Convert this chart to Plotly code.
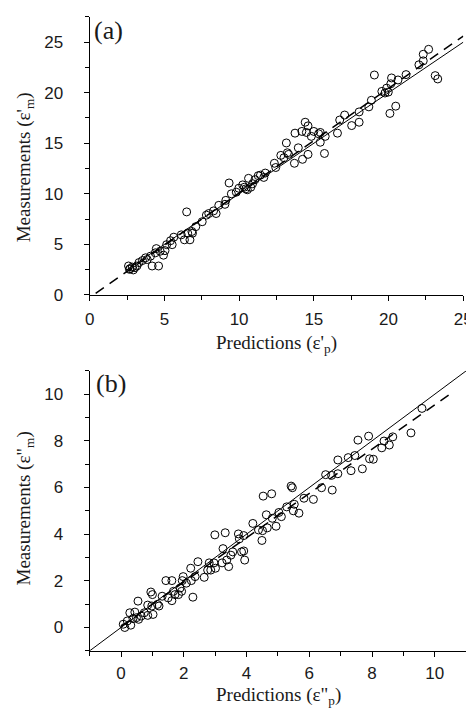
import plotly.graph_objects as go

# ---------------- data ----------------
a_pred = [2.6, 2.66, 2.92, 3.03, 3.16, 3.53, 3.74, 3.85, 4.07, 4.18, 4.39, 4.46, 4.61, 4.72,
          4.94, 5.04, 5.15, 5.41, 5.52, 5.63, 6.13, 6.34, 6.49, 6.56, 6.71, 6.84, 6.88, 7.1,
          7.53, 7.81, 7.97, 8.29, 8.46, 8.64, 9.05, 9.11, 9.33, 9.48, 9.81, 9.98, 10.24, 10.35,
          10.45, 10.63, 10.78, 11.06, 11.28, 11.43, 11.65, 11.75, 12.36, 12.45, 12.79, 13.0,
          13.16, 13.23, 13.31, 13.7, 13.74, 13.96, 14.2, 14.24, 14.42, 14.5, 14.61, 14.61,
          14.83, 15.0, 15.32, 15.43, 15.43, 15.76, 15.71, 16.58, 16.73, 17.06, 17.53, 18.03,
          18.03, 18.68, 18.85, 19.05, 19.55, 19.76, 19.87, 19.98, 20.09, 20.15, 20.2, 20.48,
          20.63, 21.17, 22.03, 22.32, 22.32, 22.68, 23.12, 23.29,
          2.7, 2.85, 3.3, 10.55, 10.9]
a_meas = [2.86, 2.53, 2.47, 2.7, 2.86, 3.4, 3.67, 3.5, 3.83, 2.86, 4.16, 4.58, 2.86, 4.32,
          3.93, 4.38, 4.97, 5.36, 4.97, 5.71, 5.94, 5.45, 8.21, 6.1, 5.45, 6.27, 6.1, 6.75,
          7.24, 7.89, 8.05, 8.31, 8.05, 8.86, 8.96, 9.35, 11.07, 10.0, 10.16, 10.55, 10.88, 10.65,
          10.49, 11.53, 10.65, 11.4, 11.79, 11.85, 11.62, 12.05, 13.02, 12.6, 13.8, 13.57,
          15.03, 14.06, 13.9, 13.02, 16.0, 14.55, 16.17, 13.41, 17.08, 16.07, 16.72, 13.9,
          15.68, 16.17, 15.94, 16.07, 15.1, 15.68, 13.99, 16.0, 17.3, 17.79, 16.75, 17.08,
          18.1, 18.6, 19.25, 21.75, 20.13, 19.97, 20.45, 20.06, 17.95, 20.88, 21.46, 18.67,
          21.26, 21.79, 22.76, 23.15, 23.8, 24.29, 21.69, 21.36,
          2.6, 2.75, 3.2, 10.4, 11.0]

b_pred = [0.07, 0.12, 0.2, 0.28, 0.31, 0.38, 0.44, 0.49, 0.54, 0.56, 0.64, 0.74, 0.85, 0.85,
          0.95, 1.0, 1.02, 0.98, 1.16, 1.21, 1.31, 1.43, 1.5, 1.62, 1.62, 1.67, 1.72, 1.83,
          1.88, 1.93, 1.95, 1.98, 2.08, 2.22, 2.24, 2.29, 2.36, 2.45, 2.65, 2.76, 2.81, 2.86,
          2.96, 2.99, 3.01, 3.25, 3.22, 3.32, 3.37, 3.43, 3.5, 3.56, 3.74, 3.77, 3.84, 3.91,
          3.91, 3.94, 4.2, 4.38, 4.49, 4.51, 4.53, 4.63, 4.66, 4.8, 4.82, 4.94, 5.03, 5.11,
          5.28, 5.42, 5.46, 5.49, 5.52, 5.67, 5.83, 6.13, 6.39, 6.52, 6.71, 6.73, 6.91, 6.91,
          7.24, 7.33, 7.45, 7.55, 7.69, 7.89, 7.92, 8.04, 8.31, 8.38, 8.55, 8.66, 9.24, 9.59]
b_meas = [0.14, 0.0, 0.28, 0.63, 0.1, 0.38, 0.66, 0.42, 1.13, 0.35, 0.49, 0.63, 0.96, 0.52,
          1.52, 1.41, 0.56, 0.92, 0.99, 0.92, 1.34, 2.01, 1.27, 2.01, 1.15, 1.55, 1.41, 1.41,
          1.69, 1.55, 2.01, 2.18, 1.9, 2.54, 2.01, 1.3, 2.18, 2.82, 2.15, 2.46, 2.77, 2.46,
          2.77, 3.97, 2.54, 3.38, 2.77, 4.06, 2.89, 2.61, 3.1, 3.24, 4.01, 3.8, 3.24, 3.94,
          3.28, 2.89, 4.46, 4.18, 3.73, 4.15, 5.63, 4.83, 4.27, 5.73, 4.68, 4.34, 4.93, 4.75,
          5.17, 6.06, 5.99, 5.0, 5.28, 4.9, 5.54, 5.49, 5.99, 6.55, 6.52, 5.89, 7.18, 6.59,
          7.28, 6.72, 7.37, 8.03, 6.8, 8.2, 7.23, 7.21, 7.7, 7.99, 7.82, 8.17, 8.34, 9.39]

# reference lines (end points)
a_solid_x = [2.5, 25.0]
a_solid_y = [2.5, 25.0]
a_dash_x = [0.4, 25.0]
a_dash_y = [0.16, 25.6]
b_solid_x = [-1.0, 11.0]
b_solid_y = [-1.0, 11.0]
b_dash_x = [0.0, 10.52]
b_dash_y = [0.05, 10.04]

a_ticks = [0, 5, 10, 15, 20, 25]
b_ticks = [0, 2, 4, 6, 8, 10]

# ---------------- figure ----------------
W, H = 474, 711
fig = go.Figure()

marker = dict(symbol="circle-open", size=8, color="black", line=dict(width=1, color="black"))

fig.add_trace(go.Scatter(x=a_solid_x, y=a_solid_y, mode="lines",
                         line=dict(color="black", width=1), xaxis="x", yaxis="y"))
fig.add_trace(go.Scatter(x=a_dash_x, y=a_dash_y, mode="lines",
                         line=dict(color="black", width=1.5, dash="10px,7px"), xaxis="x", yaxis="y"))
fig.add_trace(go.Scatter(x=a_pred, y=a_meas, mode="markers", marker=marker, xaxis="x", yaxis="y"))

fig.add_trace(go.Scatter(x=b_solid_x, y=b_solid_y, mode="lines",
                         line=dict(color="black", width=1), xaxis="x2", yaxis="y2"))
fig.add_trace(go.Scatter(x=b_dash_x, y=b_dash_y, mode="lines",
                         line=dict(color="black", width=1.5, dash="10px,7px"), xaxis="x2", yaxis="y2"))
fig.add_trace(go.Scatter(x=b_pred, y=b_meas, mode="markers", marker=marker, xaxis="x2", yaxis="y2"))


def px_x(p):
    return p / W


def px_y(p):
    return 1 - p / H


tickfont = dict(family="Liberation Sans", size=17, color="#1a1a1a")


def axis(rng, ticks, minor_dt, domain, anchor, standoff):
    return dict(range=rng, domain=domain, anchor=anchor, tickvals=ticks, ticktext=[str(t) for t in ticks],
                showgrid=False, zeroline=False, showline=True, linecolor="black", linewidth=1,
                ticks="outside", ticklen=5, tickwidth=1, tickcolor="black", tickfont=tickfont,
                minor=dict(ticks="outside", ticklen=4, tickwidth=1, tickcolor="black", dtick=minor_dt,
                           tick0=0, showgrid=False),
                mirror=False, ticklabelstandoff=standoff, fixedrange=True)


fig.update_layout(
    width=W, height=H,
    margin=dict(l=0, r=0, t=0, b=0),
    paper_bgcolor="white", plot_bgcolor="white",
    showlegend=False,
    xaxis=axis([0, 25], a_ticks, 2.5, [px_x(79), px_x(464)], "y", 4),
    yaxis=axis([0, 27.5], a_ticks, 2.5, [px_y(291), px_y(9)], "x", 17),
    xaxis2=axis([-1, 11], b_ticks, 1, [px_x(79), px_x(467)], "y2", 2),
    yaxis2=axis([-1, 11], b_ticks, 1, [px_y(652), px_y(368)], "x2", 17),
)

serif = dict(family="Liberation Serif", size=19, color="#1a1a1a")
annos = [
    dict(text="(a)", x=px_x(81), y=px_y(6), xanchor="left", yanchor="top",
         font=dict(family="Liberation Serif", size=26, color="#1a1a1a")),
    dict(text="(b)", x=px_x(83), y=px_y(364), xanchor="left", yanchor="top",
         font=dict(family="Liberation Serif", size=26, color="#1a1a1a")),
    dict(text="Predictions (ε'<sub>p</sub>)", x=px_x(272), y=px_y(341), xanchor="center", yanchor="middle",
         font=serif),
    dict(text="Predictions (ε\"<sub>p</sub>)", x=px_x(274), y=px_y(698), xanchor="center", yanchor="middle",
         font=serif),
    dict(text="Measurements (ε'<sub>m</sub>)", x=px_x(12), y=px_y(162), xanchor="center", yanchor="middle",
         textangle=-90, font=serif),
    dict(text="Measurements (ε\"<sub>m</sub>)", x=px_x(12), y=px_y(508), xanchor="center", yanchor="middle",
         textangle=-90, font=serif),
]
for a in annos:
    a.update(xref="paper", yref="paper", showarrow=False)
fig.update_layout(annotations=annos)

fig.write_html("out.html")
